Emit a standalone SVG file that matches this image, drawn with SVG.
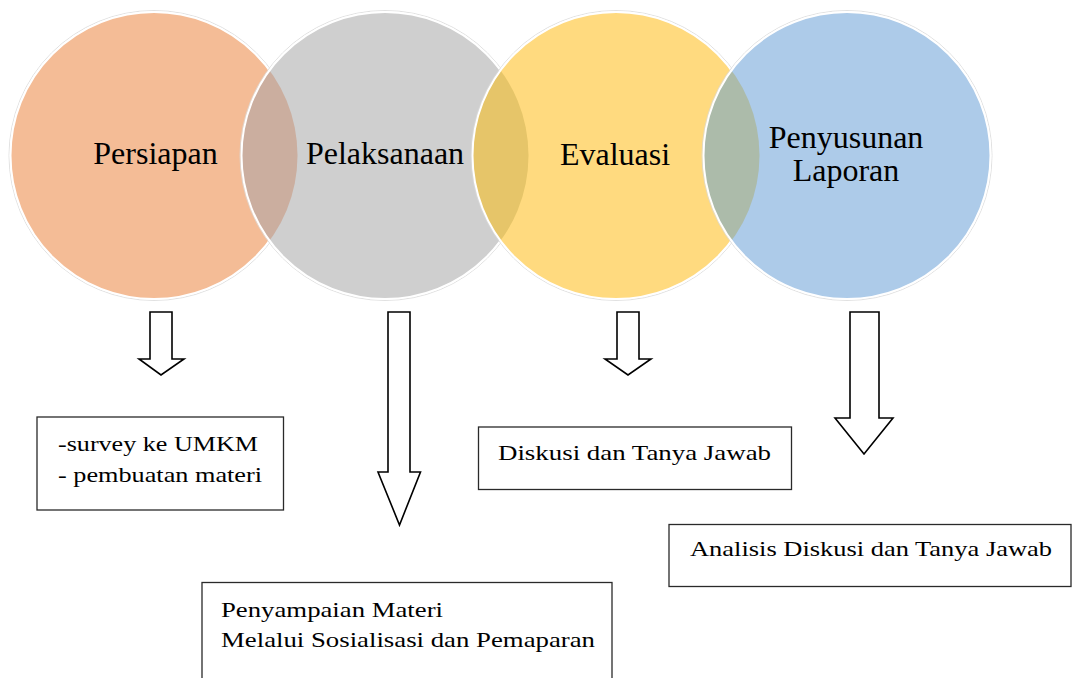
<svg xmlns="http://www.w3.org/2000/svg" width="1073" height="678" viewBox="0 0 1073 678">
<style>
.ring{fill:none;stroke:#ffffff;stroke-width:2}
.halo{fill:none;stroke:#d9d9d9;stroke-width:0.8}
.lbl{font-family:"Liberation Serif","Times New Roman",serif;font-size:32px;fill:#000;text-anchor:middle}
.box{fill:#ffffff;stroke:#2a2a2a;stroke-width:1.3}
.btx{font-family:"Liberation Serif","Times New Roman",serif;font-size:22px;fill:#000}
.arrow{fill:#ffffff;stroke:#000;stroke-width:1.6;stroke-linejoin:miter}
</style>
<defs>
<clipPath id="c2"><circle cx="385" cy="155.5" r="143.5"/></clipPath>
<clipPath id="c3"><circle cx="616" cy="155.5" r="143.5"/></clipPath>
<clipPath id="c4"><circle cx="847" cy="155.5" r="143.5"/></clipPath>
</defs>
<rect width="1073" height="678" fill="#ffffff"/>

<g id="node-persiapan">
<circle class="halo" cx="154" cy="155.5" r="145"/>
<circle cx="154" cy="155.5" r="143.5" fill="#F4BC96"/>
<circle class="ring" cx="154" cy="155.5" r="143.5"/>
<text class="lbl" x="155.5" y="164">Persiapan</text>
</g>

<g id="node-pelaksanaan">
<circle class="halo" cx="385" cy="155.5" r="145"/>
<circle cx="385" cy="155.5" r="143.5" fill="#CFCFCF"/>
<circle cx="154" cy="155.5" r="143.5" fill="#CBAE9F" clip-path="url(#c2)"/>
<circle class="ring" cx="385" cy="155.5" r="143.5"/>
<text class="lbl" x="385" y="164">Pelaksanaan</text>
</g>

<g id="node-evaluasi">
<circle class="halo" cx="616" cy="155.5" r="145"/>
<circle cx="616" cy="155.5" r="143.5" fill="#FFDA7F"/>
<circle cx="385" cy="155.5" r="143.5" fill="#E6C569" clip-path="url(#c3)"/>
<circle class="ring" cx="616" cy="155.5" r="143.5"/>
<text class="lbl" x="615" y="165">Evaluasi</text>
</g>

<g id="node-penyusunan">
<circle class="halo" cx="847" cy="155.5" r="145"/>
<circle cx="847" cy="155.5" r="143.5" fill="#ADCBE9"/>
<circle cx="616" cy="155.5" r="143.5" fill="#ACBBAA" clip-path="url(#c4)"/>
<circle class="ring" cx="847" cy="155.5" r="143.5"/>
<text class="lbl" x="846" y="148">Penyusunan</text>
<text class="lbl" x="846" y="181">Laporan</text>
</g>

<g id="connectors">
<path class="arrow" d="M150,312 H172 V359 H184 L161,375 L139,359 H150 Z"/>
<path class="arrow" d="M388,312 H410 V472 H420.5 L399.5,525 L378,472 H388 Z"/>
<path class="arrow" d="M617,312 H639 V359 H651 L628,375 L605,359 H617 Z"/>
<path class="arrow" d="M850,312 H879 V418 H893 L864,454 L835,418 H850 Z"/>
</g>

<g id="box-persiapan">
<rect class="box" x="37" y="417" width="246.5" height="93"/>
<text class="btx" x="58" y="450.5" textLength="200" lengthAdjust="spacingAndGlyphs">-survey ke UMKM</text>
<text class="btx" x="58" y="481.5" textLength="204" lengthAdjust="spacingAndGlyphs">- pembuatan materi</text>
</g>

<g id="box-pelaksanaan">
<rect class="box" x="202" y="582.5" width="410" height="120"/>
<text class="btx" x="221" y="617" textLength="222" lengthAdjust="spacingAndGlyphs">Penyampaian Materi</text>
<text class="btx" x="221" y="646.5" textLength="374" lengthAdjust="spacingAndGlyphs">Melalui Sosialisasi dan Pemaparan</text>
</g>

<g id="box-evaluasi">
<rect class="box" x="478.5" y="427" width="313" height="62.5"/>
<text class="btx" x="498" y="459.5" textLength="273" lengthAdjust="spacingAndGlyphs">Diskusi dan Tanya Jawab</text>
</g>

<g id="box-penyusunan">
<rect class="box" x="669" y="524.5" width="402" height="62"/>
<text class="btx" x="690" y="555.5" textLength="362" lengthAdjust="spacingAndGlyphs">Analisis Diskusi dan Tanya Jawab</text>
</g>
</svg>
